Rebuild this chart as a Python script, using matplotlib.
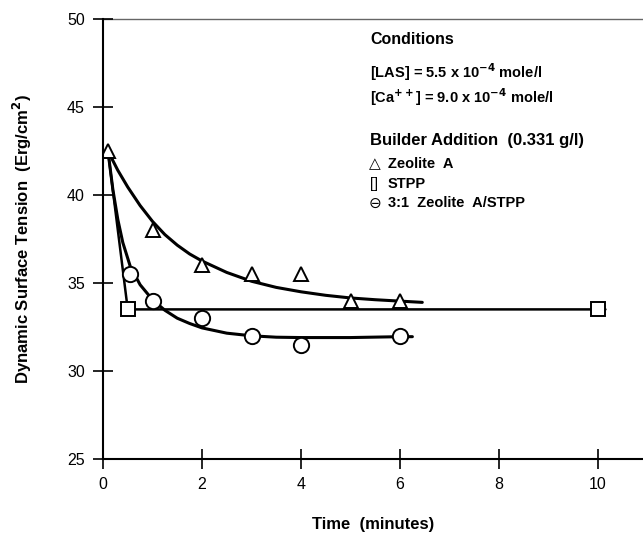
import matplotlib.pyplot as plt

# measured points (time in minutes, surface tension in Erg/cm2)
zeolite_t = [0.1, 1, 2, 3, 4, 5, 6]
zeolite_y = [42.5, 38.0, 36.0, 35.5, 35.5, 34.0, 34.0]

stpp_t = [0.5, 10]
stpp_y = [33.5, 33.5]

mix_t = [0.55, 1, 2, 3, 4, 6]
mix_y = [35.5, 34.0, 33.0, 32.0, 31.5, 32.0]

# hand-drawn fit curves
zeolite_fit_t = [0.1, 0.3, 0.5, 0.75, 1.0, 1.25, 1.5, 1.75, 2.0, 2.5, 3.0, 3.5, 4.0, 4.5, 5.0, 5.5, 6.0, 6.45]
zeolite_fit_y = [42.5, 41.4, 40.45, 39.4, 38.5, 37.75, 37.15, 36.65, 36.25, 35.6, 35.1, 34.75, 34.5, 34.3, 34.15, 34.05, 33.97, 33.9]

mix_fit_t = [0.1, 0.2, 0.3, 0.4, 0.55, 0.75, 1.0, 1.25, 1.5, 1.75, 2.0, 2.5, 3.0, 3.5, 4.0, 5.0, 6.0, 6.25]
mix_fit_y = [42.5, 40.3, 38.6, 37.3, 35.95, 34.9, 34.05, 33.45, 33.0, 32.7, 32.45, 32.15, 32.0, 31.92, 31.9, 31.9, 31.95, 31.95]

stpp_line_t = [0.1, 0.5, 10.15]
stpp_line_y = [42.5, 33.5, 33.5]

x_ticks = [0, 2, 4, 6, 8, 10]
y_ticks = [25, 30, 35, 40, 45, 50]

fig = plt.figure(figsize=(6.43, 5.38), dpi=100)
ax = fig.add_axes([103 / 643, 79 / 538, 540 / 643, 440 / 538])

line_kw = dict(color='black', solid_capstyle='round', solid_joinstyle='round')
ax.plot(zeolite_fit_t, zeolite_fit_y, lw=2.2, **line_kw)
ax.plot(mix_fit_t, mix_fit_y, lw=2.2, **line_kw)
ax.plot(stpp_line_t, stpp_line_y, lw=1.8, **line_kw)

ax.plot(zeolite_t, zeolite_y, ls='none', marker='^', ms=10, mfc='white', mec='black', mew=1.4)
ax.plot(stpp_t, stpp_y, ls='none', marker='s', ms=10, mfc='white', mec='black', mew=1.4)
ax.plot(mix_t, mix_y, ls='none', marker='o', ms=11, mfc='white', mec='black', mew=1.4)

ax.set_xlim(0, 540 / 49.5)
ax.set_ylim(25, 50)
ax.set_xticks(x_ticks)
ax.set_yticks(y_ticks)
ax.tick_params(direction='inout', length=14, width=1.2, labelsize=11.5, pad=6)
for lab in ax.get_xticklabels() + ax.get_yticklabels():
    lab.set_family('Liberation Sans')

ax.spines['right'].set_visible(False)
ax.spines['left'].set_linewidth(1.5)
ax.spines['bottom'].set_linewidth(1.5)
ax.spines['top'].set_linewidth(1.0)
ax.spines['top'].set_alpha(0.6)

bold = dict(family='Liberation Sans', weight='bold')
ax.set_xlabel('Time  (minutes)', fontsize=12, labelpad=18, **bold)
ax.set_ylabel('Dynamic Surface Tension  (Erg/cm$^\\mathbf{2}$)', fontsize=12, labelpad=24, **bold)

# annotation block in the upper right
def ftext(x, y, s, size=10.5, **kw):
    fig.text(x / 643, 1 - y / 538, s, fontsize=size, va='center', ha='left', **kw)

ftext(370, 40, 'Conditions', size=11.5, **bold)
ftext(370, 72, '[LAS] = 5.5 x 10$^{\\mathbf{-4}}$ mole/l', **bold)
ftext(370, 97, '[Ca$^{\\mathbf{++}}$] = 9.0 x 10$^{\\mathbf{-4}}$ mole/l', **bold)
ftext(370, 140, 'Builder Addition  (0.331 g/l)', size=12, **bold)
ftext(369, 164, '\u25b3', size=11, family='DejaVu Sans')
ftext(388, 164, 'Zeolite  A', **bold)
ftext(370, 184, '[]', size=10.5, family='Liberation Sans')
ftext(388, 184, 'STPP', **bold)
ftext(369, 203, '\u2296', size=11, family='DejaVu Sans')
ftext(388, 203, '3:1  Zeolite  A/STPP', **bold)

plt.savefig('out.png', dpi=100)
